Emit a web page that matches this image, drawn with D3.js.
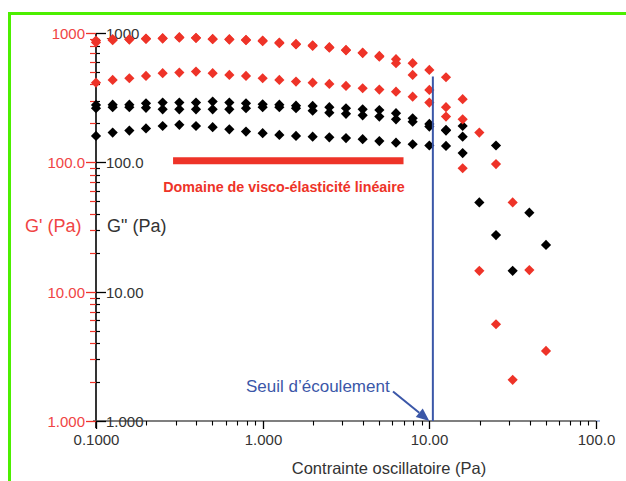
<!DOCTYPE html>
<html><head><meta charset="utf-8">
<script src="https://cdn.jsdelivr.net/npm/d3@7"></script>
<style>html,body{margin:0;padding:0;background:#fff;} svg{display:block;font-family:"Liberation Sans",Arial,Helvetica,sans-serif;}</style>
</head><body><svg id="c" width="626" height="481"></svg>
<script>
// ---- data ----
const stress = [0.1000,0.1259,0.1585,0.1995,0.2512,0.3162,0.3981,0.5012,0.6310,0.7943,
                1.000,1.259,1.585,1.995,2.512,3.162,3.981,5.012,6.310,7.943,
                10.00,12.59,15.85,19.95,25.12,31.62,39.81,50.12];
// G' (storage modulus, red)
const gPrime1 = [874,896,896,900,912,928,918,900,896,885,874,843,823,804,777,740,705,665,627,584,518,455,308,170,97,49,14.7,3.48];
const gPrime2 = [846,880,890,905,905,920,915,895,890,880,865,835,815,795,770,735,700,655,584,474,363,267,215,null,null,null,null,null];
const gPrime3 = [413,434,447,466,489,494,503,489,474,466,447,434,421,413,404,390,374,365,352,322,290,226,90,14.5,5.6,2.08,null,null];
// G'' (loss modulus, black)
const gSecond1 = [278,279,279,286,290,290,290,295,290,286,281,279,274,273,267,262,257,254,240,219,198,178,191,null,135,null,40.8,23];
const gSecond2 = [262,267,267,264,257,257,257,257,257,262,267,267,262,251,242,237,231,226,215,206,189,176,158,null,null,null,null,null];
const gSecond3 = [160,170,176,183,191,195,191,187,180,173,168,163,160,158,156,154,151,146,142,138,135,134,118,49,27.4,14.5,null,null];

const xTickValues = [0.1,1,10,100];
const xTickLabels = ["0.1000","1.000","10.00","100.0"];
const yTickValues = [1,10,100,1000];
const yTickLabels = ["1.000","10.00","100.0","1000"];

const xTitle = "Contrainte oscillatoire (Pa)";
const yTitleLeft = "G' (Pa)";
const yTitleRight = "G\" (Pa)";
const lveText = "Domaine de visco-élasticité linéaire";
const lveRange = [0.29, 7.0];
const lveLevel = 103;
const yieldText = "Seuil d’écoulement";
const yieldStress = 10.5;
const yieldLineTop = 460;

// ---- setup ----
const RED = "#ee3328", RED_TXT = "#f04444", BLACK = "#000", BLUE = "#3b57a8", TXT = "#333";
const svg = d3.select("#c");
const x = d3.scaleLog().domain([0.1,100]).range([96,596]);
const y = d3.scaleLog().domain([1,1000]).range([421,33]);

// frame
svg.append("path").attr("d","M9.5,481V13.5H626").attr("fill","none").attr("stroke","#4cef00").attr("stroke-width",3);

// minor ticks
const yMinor = y.ticks().filter(v => !yTickValues.includes(v));
const xMinor = x.ticks().filter(v => !xTickValues.some(m => Math.abs(m-v)<1e-9));

const gAx = svg.append("g");
// y axis line
gAx.append("line").attr("x1",96).attr("x2",96).attr("y1",y(1000)).attr("y2",428).attr("stroke",BLACK).attr("stroke-width",1.6);
// x axis line
gAx.append("line").attr("x1",93).attr("x2",x(100)).attr("y1",y(1)).attr("y2",y(1)).attr("stroke","#555").attr("stroke-width",1.5);
gAx.append("line").attr("x1",x(100)).attr("x2",x(100)+4).attr("y1",y(1)).attr("y2",y(1)).attr("stroke","#8fa6d6").attr("stroke-width",1.5);

// y ticks - red (left), black (right)
yTickValues.forEach((v,i) => {
  const yy = Math.round(y(v))+0.5;
  gAx.append("line").attr("x1",86).attr("x2",96).attr("y1",yy).attr("y2",yy).attr("stroke",RED).attr("stroke-width",1.3);
  gAx.append("line").attr("x1",96).attr("x2",106).attr("y1",yy).attr("y2",yy).attr("stroke",BLACK).attr("stroke-width",1.3);
  gAx.append("text").attr("x",85).attr("y",yy+5.5).attr("text-anchor","end").attr("font-size",15).attr("fill",RED_TXT).text(yTickLabels[i]);
  gAx.append("text").attr("x",106).attr("y",yy+5.5).attr("text-anchor","start").attr("font-size",15).attr("fill",TXT).text(yTickLabels[i]);
});
yMinor.forEach(v => {
  const yy = Math.round(y(v))+0.5;
  gAx.append("line").attr("x1",90).attr("x2",96).attr("y1",yy).attr("y2",yy).attr("stroke",RED).attr("stroke-width",1.2);
  gAx.append("line").attr("x1",96).attr("x2",100).attr("y1",yy).attr("y2",yy).attr("stroke",BLACK).attr("stroke-width",1.2);
});
// x ticks
xTickValues.forEach((v,i) => {
  const xx = Math.round(x(v))+0.5;
  gAx.append("line").attr("x1",xx).attr("x2",xx).attr("y1",y(1)).attr("y2",y(1)+8).attr("stroke",BLACK).attr("stroke-width",1.3);
  gAx.append("text").attr("x",xx).attr("y",445).attr("text-anchor","middle").attr("font-size",15).attr("fill",TXT).text(xTickLabels[i]);
});
xMinor.forEach(v => {
  const xx = Math.round(x(v))+0.5;
  gAx.append("line").attr("x1",xx).attr("x2",xx).attr("y1",y(1)).attr("y2",y(1)+4.5).attr("stroke",BLACK).attr("stroke-width",1.1);
});

// titles
svg.append("text").attr("x",389).attr("y",474).attr("text-anchor","middle").attr("font-size",16.5).attr("fill",TXT).text(xTitle);
svg.append("text").attr("x",25).attr("y",232).attr("font-size",18).attr("fill",RED_TXT).text(yTitleLeft);
svg.append("text").attr("x",107).attr("y",232).attr("font-size",18).attr("fill",TXT).text(yTitleRight);

// LVE bar + text
svg.append("line").attr("x1",x(lveRange[0])).attr("x2",x(lveRange[1])).attr("y1",y(lveLevel)).attr("y2",y(lveLevel))
   .attr("stroke",RED).attr("stroke-width",7);
svg.append("text").attr("x",284).attr("y",191.5).attr("text-anchor","middle").attr("font-size",14.3).attr("font-weight","bold")
   .attr("fill",RED).text(lveText);

// data
const diamond = d3.symbol(d3.symbolSquare, 52);
function drawSeries(vals, color) {
  const pts = vals.map((v,i) => ({x: stress[i], y: v})).filter(d => d.y != null);
  svg.append("g").selectAll("path").data(pts).join("path")
    .attr("d", diamond)
    .attr("transform", d => `translate(${x(d.x)},${y(d.y)}) rotate(45)`)
    .attr("fill", color);
}
drawSeries(gSecond1, BLACK);
drawSeries(gSecond2, BLACK);
drawSeries(gSecond3, BLACK);
drawSeries(gPrime1, RED);
drawSeries(gPrime2, RED);
drawSeries(gPrime3, RED);

// yield line + arrow + text
svg.append("line").attr("x1",x(yieldStress)).attr("x2",x(yieldStress)).attr("y1",y(yieldLineTop)).attr("y2",y(1))
   .attr("stroke",BLUE).attr("stroke-width",2);
const ax0 = 393, ay0 = 391.5, ax1 = x(10), ay1 = y(1);
const ang = Math.atan2(ay1-ay0, ax1-ax0);
const hl = 13, hw = 5.5;
const bx = ax1 - hl*Math.cos(ang), by = ay1 - hl*Math.sin(ang);
svg.append("line").attr("x1",ax0).attr("y1",ay0).attr("x2",bx).attr("y2",by).attr("stroke",BLUE).attr("stroke-width",2);
svg.append("path").attr("d",`M${ax1},${ay1}L${bx - hw*Math.sin(ang)},${by + hw*Math.cos(ang)}L${bx + hw*Math.sin(ang)},${by - hw*Math.cos(ang)}Z`)
   .attr("fill",BLUE);
svg.append("text").attr("x",246).attr("y",391.5).attr("font-size",17).attr("fill",BLUE).text(yieldText);
</script></body></html>
